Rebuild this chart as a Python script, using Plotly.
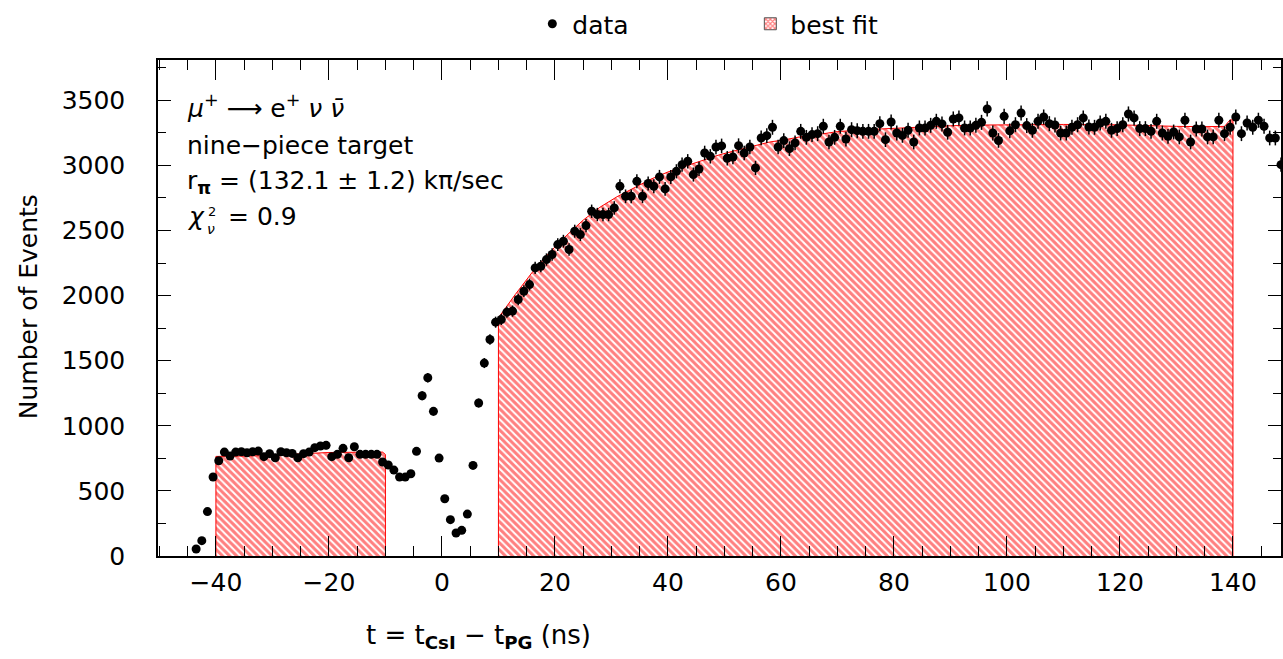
import numpy as np
import plotly.graph_objects as go

# ---------------- data ----------------
t_first_bin = -43.5   # centre of first histogram bin (ns), bins are 1 ns wide
counts = [
    54, 118, 341, 607, 732, 798, 768, 798, 801, 793,
    801, 806, 763, 786, 755, 801, 793, 788, 755, 786,
    798, 832, 845, 850, 763, 781, 827, 755, 839, 781,
    781, 781, 781, 722, 699, 660, 606, 606, 632, 804,
    1231, 1369, 1111, 752, 440, 279, 177, 197, 322, 696,
    1175, 1482, 1663, 1796, 1817, 1873, 1881, 1970, 2034, 2085,
    2213, 2226, 2277, 2316, 2392, 2418, 2354, 2495, 2469, 2538,
    2648, 2623, 2623, 2623, 2674, 2840, 2763, 2763, 2878, 2763,
    2861, 2840, 2912, 2820, 2912, 2955, 3006, 3032, 2930, 2973,
    3096, 3070, 3142, 3150, 3055, 3065, 3152, 3096, 3142, 2981,
    3211, 3229, 3293, 3142, 3191, 3129, 3173, 3262, 3216, 3237,
    3244, 3301, 3180, 3216, 3301, 3203, 3275, 3267, 3262, 3262,
    3262, 3321, 3198, 3334, 3249, 3231, 3270, 3180, 3288, 3288,
    3308, 3339, 3319, 3255, 3357, 3365, 3288, 3288, 3308, 3331,
    3434, 3249, 3192, 3377, 3266, 3313, 3403, 3306, 3270, 3339,
    3372, 3321, 3311, 3249, 3249, 3293, 3313, 3365, 3295, 3293,
    3326, 3339, 3270, 3283, 3313, 3395, 3365, 3283, 3283, 3262,
    3339, 3249, 3224, 3257, 3219, 3347, 3180, 3280, 3280, 3219,
    3219, 3347, 3244, 3293, 3372, 3244, 3326, 3293, 3347, 3301,
    3211, 3211, 3006,
]
t_data = t_first_bin + np.arange(len(counts))

# best-fit curve (two fitted windows, outline)
fit_t_early = [-40, -40, -35, -30, -25, -20, -15, -10.5, -10, -10]
fit_v_early = [0, 765, 768, 772, 785, 795, 797, 798, 780, 0]
fit_t_late = [10, 10, 13, 16, 19, 22, 25, 28, 31, 34, 37, 40, 43, 46, 49, 52, 55,
              58, 61, 64, 67, 70, 75, 80, 85, 90, 95, 100, 110, 120, 125, 130,
              135, 138.5, 139.5, 140, 140]
fit_v_late = [0, 1830, 2010, 2180, 2330, 2460, 2580, 2680, 2760, 2830, 2895, 2950,
              2995, 3040, 3080, 3115, 3150, 3180, 3200, 3225, 3240, 3260, 3275,
              3285, 3296, 3305, 3310, 3313, 3315, 3312, 3305, 3300, 3298, 3300,
              3350, 3350, 0]

x_ticks = [-40, -20, 0, 20, 40, 60, 80, 100, 120, 140]
y_ticks = [0, 500, 1000, 1500, 2000, 2500, 3000, 3500]

# ---------------- figure ----------------
W, H = 1283, 659
L, R, T, B = 158, 0, 60, 103
PW, PH = W - L - R, H - T - B
FONT = "DejaVu Sans"
FS = 25


def px(xp):
    return (xp - L) / PW


def py(yp):
    return (H - B - yp) / PH


fig = go.Figure()

fit_t = fit_t_early + [None] + fit_t_late
fit_v = fit_v_early + [None] + fit_v_late
fig.add_trace(go.Scatter(
    x=fit_t, y=fit_v, mode="lines", fill="toself",
    fillcolor="rgba(255,0,0,0.2)",
    fillpattern=dict(shape="\\", fgcolor="red", bgcolor="white",
                     size=5, solidity=0.6),
    line=dict(color="red", width=1), showlegend=False, hoverinfo="skip",
))

fig.add_trace(go.Scatter(
    x=t_data, y=counts, mode="markers", name="data",
    marker=dict(color="black", size=9),
    error_y=dict(type="data", array=np.sqrt(counts), color="black",
                 thickness=1.5, width=0),
))

fig.add_trace(go.Bar(
    x=[None], y=[None], name="best fit",
    marker=dict(color="white",
                pattern=dict(shape="x", fgcolor="red", bgcolor="white",
                             size=4, solidity=0.6),
                line=dict(color="#555555", width=1)),
))

axis_common = dict(
    showline=True, linecolor="black", linewidth=1.5, mirror="allticks",
    ticks="inside", tickcolor="black", tickwidth=1,
    showgrid=False, zeroline=False,
    tickfont=dict(family=FONT, size=FS, color="black"),
)

fig.update_xaxes(
    range=[-50.25, 148.5], tickmode="array", tickvals=x_ticks, ticklen=20,
    minor=dict(dtick=5, tick0=0, ticklen=10, ticks="inside",
               tickcolor="black", tickwidth=1),
    ticklabelstandoff=3,
    **axis_common,
)
fig.update_yaxes(
    range=[0, 3810], tickmode="array", tickvals=y_ticks, ticklen=13,
    minor=dict(dtick=250, tick0=0, ticklen=8, ticks="inside",
               tickcolor="black", tickwidth=1),
    ticklabelstandoff=26,
    **axis_common,
)

ann = []
ann.append(dict(text="Number of Events", textangle=-90, x=px(28), y=py(307),
                xanchor="center", yanchor="middle", font=dict(size=FS)))
ann.append(dict(text="t = t<sub><b>CsI</b></sub> − t<sub><b>PG</b></sub> (ns)",
                x=px(479), y=py(636), xanchor="center", yanchor="middle",
                font=dict(size=26)))
ann.append(dict(text="<i>μ</i><sup>+</sup> ⟶ e<sup>+</sup> <i>ν</i> <i>ν̄</i>",
                x=px(185), y=py(106), xanchor="left", yanchor="middle",
                font=dict(size=FS)))
ann.append(dict(text="nine−piece target", x=px(185), y=py(145),
                xanchor="left", yanchor="middle", font=dict(size=FS)))
ann.append(dict(text="r<sub><b>π</b></sub> = (132.1 ± 1.2) kπ/sec",
                x=px(185), y=py(182), xanchor="left", yanchor="middle",
                font=dict(size=FS)))
ann.append(dict(text="<i>χ</i>", x=px(185), y=py(216), xanchor="left",
                yanchor="middle", font=dict(size=FS)))
ann.append(dict(text="2", x=px(206), y=py(211), xanchor="left",
                yanchor="middle", font=dict(size=13)))
ann.append(dict(text="<i>ν</i>", x=px(205), y=py(229), xanchor="left",
                yanchor="middle", font=dict(size=14)))
ann.append(dict(text="= 0.9", x=px(226), y=py(216), xanchor="left",
                yanchor="middle", font=dict(size=FS)))
for a in ann:
    a.update(xref="paper", yref="paper", showarrow=False)
    a["font"].update(family=FONT, color="black")

fig.update_layout(
    width=W, height=H,
    margin=dict(l=L, r=R, t=T, b=B, pad=0),
    paper_bgcolor="white", plot_bgcolor="white",
    font=dict(family=FONT, size=FS, color="black"),
    showlegend=True,
    legend=dict(orientation="h", x=px(533), y=py(24), xanchor="left",
                yanchor="middle", bgcolor="rgba(0,0,0,0)",
                font=dict(family=FONT, size=FS), entrywidth=173,
                traceorder="normal"),
    annotations=ann,
    barmode="overlay",
)

fig.write_html("out.html")
